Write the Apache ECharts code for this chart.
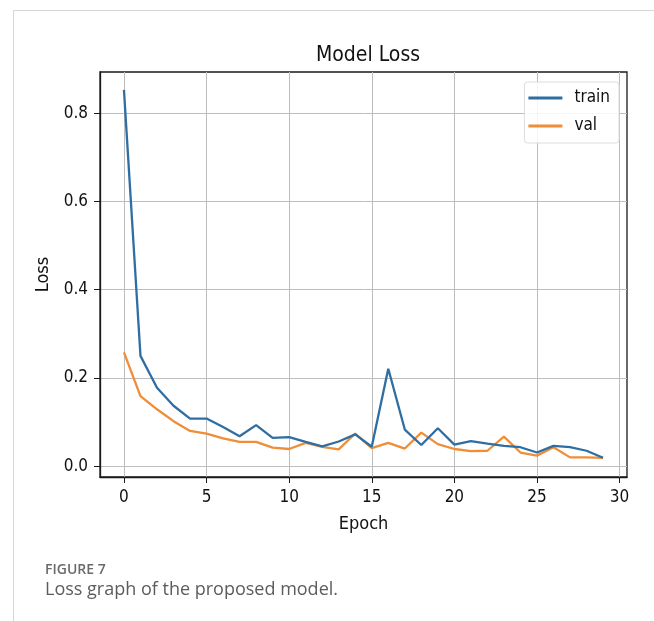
<!DOCTYPE html>
<html>
<head>
<meta charset="utf-8">
<script src="https://cdn.jsdelivr.net/npm/echarts@6/dist/echarts.min.js"></script>
<style>
html,body{margin:0;padding:0;background:#fff;}
#chart{width:654px;height:621px;}
</style>
</head>
<body>
<div id="chart"></div>
<script>
const epochs = [0,1,2,3,4,5,6,7,8,9,10,11,12,13,14,15,16,17,18,19,20,21,22,23,24,25,26,27,28,29];
const trainLoss = [0.853,0.250,0.178,0.137,0.108,0.108,0.089,0.068,0.093,0.064,0.066,0.055,0.045,0.056,0.072,0.044,0.221,0.083,0.048,0.086,0.049,0.057,0.051,0.046,0.043,0.031,0.046,0.043,0.035,0.019];
const valLoss = [0.258,0.159,0.129,0.102,0.080,0.074,0.063,0.055,0.055,0.042,0.039,0.053,0.044,0.038,0.074,0.041,0.053,0.040,0.076,0.050,0.039,0.034,0.035,0.067,0.031,0.024,0.043,0.020,0.020,0.019];
const xTicks = [0,5,10,15,20,25,30];
const yTicks = [0.0,0.2,0.4,0.6,0.8];
const seriesNames = ['train','val'];
const titleText = 'Model Loss';
const xName = 'Epoch';
const yName = 'Loss';
const figLabel = 'FIGURE 7';
const caption = 'Loss graph of the proposed model.';

const FONT = '"DejaVu Sans Condensed", "DejaVu Sans", sans-serif';
const chart = echarts.init(document.getElementById('chart'), null, {renderer:'canvas'});
const trainData = epochs.map((e,i)=>[e,trainLoss[i]]);
const valData = epochs.map((e,i)=>[e,valLoss[i]]);

chart.setOption({
  animation:false,
  backgroundColor:'#fff',
  title:{text:titleText, left:363, textAlign:'center', top:40,
    textStyle:{fontFamily:FONT, fontSize:21, fontWeight:'normal', color:'#111'}},
  grid:{left:100, right:27, top:72, bottom:144, show:true, borderColor:'#1a1a1a', borderWidth:1.3, containLabel:false},
  legend:{orient:'vertical', right:35, top:82, data:seriesNames, icon:'rect', itemWidth:34, itemHeight:3,
    itemGap:8, padding:[6,9,7,4], borderColor:'#dcdcdc', borderWidth:1, borderRadius:3,
    backgroundColor:'rgba(255,255,255,0.85)',
    textStyle:{fontFamily:FONT, fontSize:17, color:'#111', lineHeight:20, padding:[0,0,0,7]}},
  xAxis:{type:'value', min:-1.45, max:30.45, name:xName, nameLocation:'middle', nameGap:38,
    nameTextStyle:{fontFamily:FONT, fontSize:18, color:'#111'},
    axisLine:{show:true, onZero:false, lineStyle:{color:'#1a1a1a', width:1.3}},
    axisTick:{show:true, length:6, customValues:xTicks, lineStyle:{color:'#1a1a1a'}},
    axisLabel:{customValues:xTicks, margin:12, fontFamily:FONT, fontSize:17, color:'#111'},
    splitLine:{show:true, lineStyle:{color:'#bdbdbd', width:1}}},
  yAxis:{type:'value', min:-0.0245, max:0.8935, name:yName, nameLocation:'middle', nameGap:43,
    nameTextStyle:{fontFamily:FONT, fontSize:18, color:'#111'},
    axisLine:{show:true, onZero:false, lineStyle:{color:'#1a1a1a', width:1.3}},
    axisTick:{show:true, length:6, customValues:yTicks, lineStyle:{color:'#1a1a1a'}},
    axisLabel:{customValues:yTicks, margin:12, fontFamily:FONT, fontSize:17, color:'#111',
      formatter:v=>v.toFixed(1)},
    splitLine:{show:true, lineStyle:{color:'#bdbdbd', width:1}}},
  series:[
    {name:seriesNames[0], type:'line', data:trainData, showSymbol:false, symbol:'none',
      lineStyle:{color:'#2f6ea3', width:2.3}, itemStyle:{color:'#2f6ea3'}, z:3},
    {name:seriesNames[1], type:'line', data:valData, showSymbol:false, symbol:'none',
      lineStyle:{color:'#ef8e37', width:2.3}, itemStyle:{color:'#ef8e37'}, z:2}
  ],
  graphic:[
    {type:'line', shape:{x1:13.5,y1:10.5,x2:654,y2:10.5}, style:{stroke:'#d6d6d6', lineWidth:1}},
    {type:'line', shape:{x1:13.5,y1:10.5,x2:13.5,y2:621}, style:{stroke:'#d6d6d6', lineWidth:1}},
    {type:'text', left:45, top:563, style:{text:figLabel, font:'600 14px "Open Sans", sans-serif', fill:'#6a6a6a'}},
    {type:'text', left:45, top:581, style:{text:caption, font:'18px "Open Sans", sans-serif', fill:'#5c5c5c'}}
  ]
});
</script>
</body>
</html>
